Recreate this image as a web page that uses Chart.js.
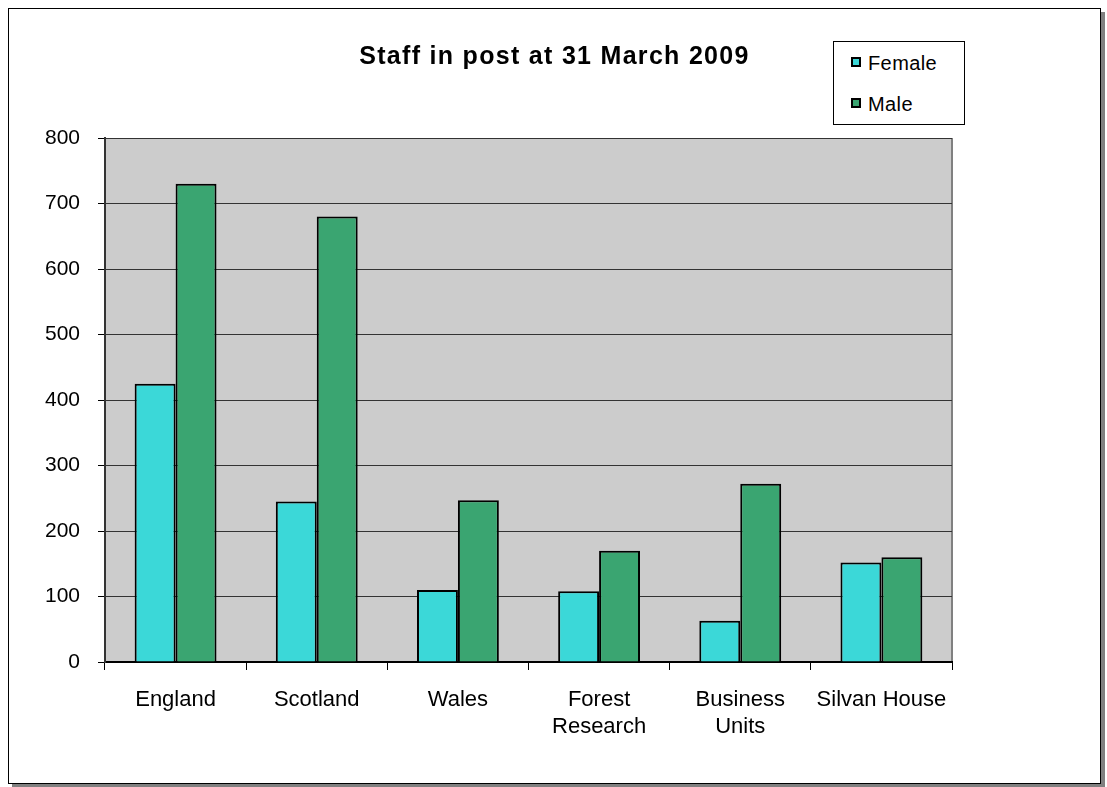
<!DOCTYPE html>
<html lang="en">
<head>
<meta charset="UTF-8">
<title>Staff in post at 31 March 2009</title>
<script src="https://cdn.jsdelivr.net/npm/chart.js@4"></script>
<style>
  body { margin: 0; background: #fff; font-family: "Liberation Sans", Arial, sans-serif; }
  .frame {
    position: absolute; left: 8px; top: 8px;
    width: 1091px; height: 774px;
    border: 1px solid #000;
    box-shadow: 4px 4px 0 #808080;
    background: #fff;
  }
  .frame canvas { position: absolute; left: 0; top: 0; }
  .title {
    position: absolute; left: 0; top: 32px; width: 1091px;
    text-align: center; font-weight: bold; font-size: 25px; letter-spacing: 1.3px; color: #000;
  }
  .legend {
    position: absolute; left: 824px; top: 32px; width: 130px; height: 82px;
    border: 1px solid #000; background: #fff;
  }
  .legend div { position: absolute; left: 17px; font-size: 20px; letter-spacing: 0.4px; color: #000; }
  .legend span {
    display: inline-block; width: 6px; height: 6px; border: 2px solid #000;
    margin-right: 7px; vertical-align: 3px;
  }
</style>
</head>
<body>
<div class="frame">
  <canvas id="staff" width="1091" height="774"></canvas>
  <div class="title">Staff in post at 31 March 2009</div>
  <div class="legend" id="legend"></div>
</div>
<script>
const categories = [["England"], ["Scotland"], ["Wales"], ["Forest", "Research"], ["Business", "Units"], ["Silvan House"]];
const female = [425, 245, 110, 108, 63, 152];
const male = [730, 680, 247, 170, 272, 160];
const yTicks = [0, 100, 200, 300, 400, 500, 600, 700, 800];

const femaleColor = "#3bd8d8";
const maleColor = "#3aa571";

// grey plot background and right border
const plotBg = {
  id: "plotBg",
  beforeDraw(chart) {
    const a = chart.chartArea, ctx = chart.ctx;
    ctx.save();
    ctx.fillStyle = "#cccccc";
    ctx.fillRect(a.left, a.top, a.right - a.left, a.bottom - a.top);
    ctx.strokeStyle = "#808080";
    ctx.lineWidth = 2;
    ctx.beginPath();
    ctx.moveTo(a.right, a.top);
    ctx.lineTo(a.right, a.bottom);
    ctx.stroke();
    ctx.restore();
  }
};

const chart = new Chart(document.getElementById("staff"), {
  type: "bar",
  data: {
    labels: categories,
    datasets: [
      { label: "Female", data: female, backgroundColor: femaleColor, borderColor: "#000", borderWidth: 2 },
      { label: "Male", data: male, backgroundColor: maleColor, borderColor: "#000", borderWidth: 2 }
    ]
  },
  options: {
    responsive: false,
    animation: false,
    layout: { padding: { top: 129, right: 148, left: 0, bottom: 0 } },
    plugins: { legend: { display: false }, title: { display: false }, tooltip: { enabled: false } },
    datasets: { bar: { categoryPercentage: 0.58, barPercentage: 1.0 } },
    scales: {
      x: {
        afterFit(s) { s.height = 121; },
        grid: { offset: true, drawOnChartArea: false, color: "#000", tickLength: 8, tickColor: "#000" },
        border: { color: "#000", width: 2 },
        ticks: { color: "#000", font: { family: "Liberation Sans", size: 22, lineHeight: 1.23 }, padding: 16, maxRotation: 0, autoSkip: false }
      },
      y: {
        min: 0, max: 800,
        afterFit(s) { s.width = 96; },
        afterBuildTicks(s) { s.ticks = yTicks.map(v => ({ value: v })); },
        grid: { color: "#333", lineWidth: 1, tickLength: 7, tickColor: "#000" },
        border: { color: "#333", width: 2 },
        ticks: { color: "#000", font: { family: "Liberation Sans", size: 21 }, padding: 18 }
      }
    }
  },
  plugins: [plotBg]
});

// legend built from the datasets
const legend = document.getElementById("legend");
chart.data.datasets.forEach((ds, i) => {
  const item = document.createElement("div");
  item.style.top = (i === 0 ? 10 : 51) + "px";
  item.innerHTML = '<span style="background:' + ds.backgroundColor + '"></span>' + ds.label;
  legend.appendChild(item);
});
</script>
</body>
</html>
